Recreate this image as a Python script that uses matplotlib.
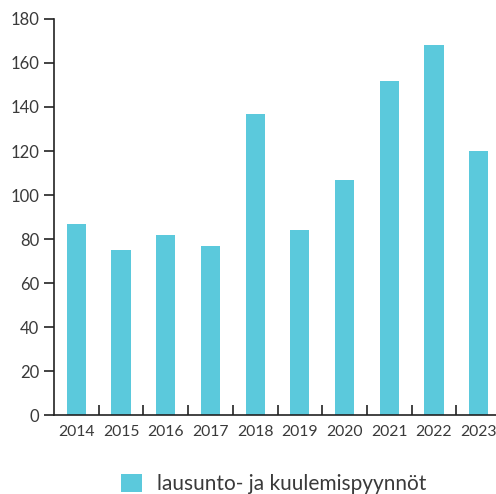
import matplotlib
matplotlib.use("Agg")
import matplotlib.pyplot as plt

years = ["2014", "2015", "2016", "2017", "2018", "2019", "2020", "2021", "2022", "2023"]
values = [87, 75, 82, 77, 137, 84, 107, 152, 168, 120]
series_name = "lausunto- ja kuulemispyynnöt"

plt.rcParams['font.family'] = ['Lato', 'DejaVu Sans']

fig = plt.figure(figsize=(4.96, 4.94), dpi=100)
ax = fig.add_axes([54/496, 79/494, 447/496, 396/494])

x = range(len(years))
ax.bar(x, values, width=0.43, color="#5BC9DC", label=series_name, zorder=2)

ax.set_xlim(-0.5, len(years) - 0.5)
ax.set_ylim(0, 180)
ax.set_yticks(range(0, 181, 20))

for s in ["top", "right"]:
    ax.spines[s].set_visible(False)
for s in ["left", "bottom"]:
    ax.spines[s].set_color("#222222")
    ax.spines[s].set_linewidth(1.2)

ax.tick_params(axis="y", direction="out", length=7.5, width=1.2, color="#222222",
               labelsize=12, labelcolor="#3a3a3a", pad=3)
# x ticks sit between the bars, pointing up
ax.set_xticks([i + 0.5 for i in range(len(years) - 1)], minor=False)
ax.set_xticklabels([])
ax.tick_params(axis="x", which="major", direction="in", length=7.5, width=1.2, color="#222222")
ax.set_xticks(list(x), minor=True)
ax.set_xticklabels(years, minor=True)
ax.tick_params(axis="x", which="minor", length=0, labelsize=11.3, labelcolor="#3a3a3a", pad=7)

fig.legend(loc="center", bbox_to_anchor=(0.552, 10/494), frameon=False, fontsize=15,
           handlelength=1.0, handleheight=1.0, handletextpad=0.75, labelcolor="#3a3a3a")

fig.savefig("out.png", dpi=100)
